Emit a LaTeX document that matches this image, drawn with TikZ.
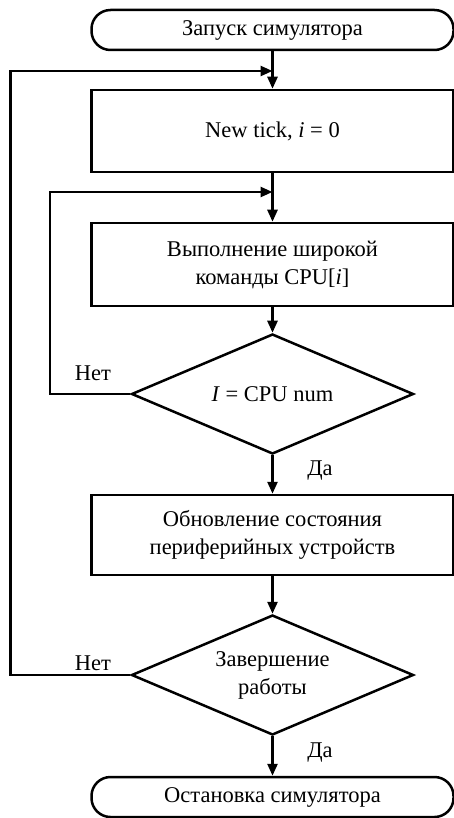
\documentclass[tikz,border=0pt]{standalone}
\usepackage{fontspec}
\setmainfont{Liberation Serif}
\usetikzlibrary{arrows.meta,shapes.geometric}
\begin{document}
\begin{tikzpicture}[x=1pt,y=1pt,
  font=\fontsize{22.5}{28}\selectfont,
  line width=2.5pt,
  box/.style={draw, rectangle, minimum width=362pt, inner sep=0pt, align=center},
  term/.style={draw, rectangle, rounded corners=19pt, minimum width=362pt, minimum height=40pt, inner sep=0pt, align=center},
  dec/.style={draw, diamond, aspect=2.35, minimum width=282pt, minimum height=120pt, inner sep=0pt, align=center},
  arr/.style={-{Triangle[length=12pt,width=10pt]}},
  lbl/.style={inner sep=0pt}
]
\useasboundingbox (0,0) rectangle (454,-818);
\node[term] (start) at (272.5,-30) {Запуск симулятора};
\node[box, minimum height=82pt] (tick) at (272.5,-131) {New tick, \textit{i} = 0};
\node[box, minimum height=83pt] (exec) at (272.5,-264.5) {Выполнение широкой\\команды CPU[\textit{i}]};
\node[dec] (d1) at (272.5,-394) {\textit{I} = CPU num};
\node[box, minimum height=80pt] (upd) at (272.5,-535) {Обновление состояния\\периферийных устройств};
\node[dec] (d2) at (272.5,-675) {Завершение\\работы};
\node[term] (stop) at (272.5,-797) {Остановка симулятора};

\coordinate (j1) at (272.5,-71);
\coordinate (j2) at (272.5,-192);
\coordinate (o1) at (10.5,-675);
\coordinate (o2) at (10.5,-71);
\coordinate (i1) at (50,-394);
\coordinate (i2) at (50,-192);

\draw[arr] (start) -- (tick);
\draw[arr] (tick) -- (exec);
\draw[arr] (exec) -- (d1);
\draw[arr] (d1) -- (upd);
\draw[arr] (upd) -- (d2);
\draw[arr] (d2) -- (stop);
\draw[arr] (d2.west) -- (o1) -- (o2) -- (j1);
\draw[arr] (d1.west) -- (i1) -- (i2) -- (j2);

\node[lbl] (n1) at (93,-373) {Нет};
\node[lbl] (n2) at (93,-663) {Нет};
\node[lbl] (y1) at (320,-471) {Да};
\node[lbl] (y2) at (320,-753) {Да};
\end{tikzpicture}
\end{document}
